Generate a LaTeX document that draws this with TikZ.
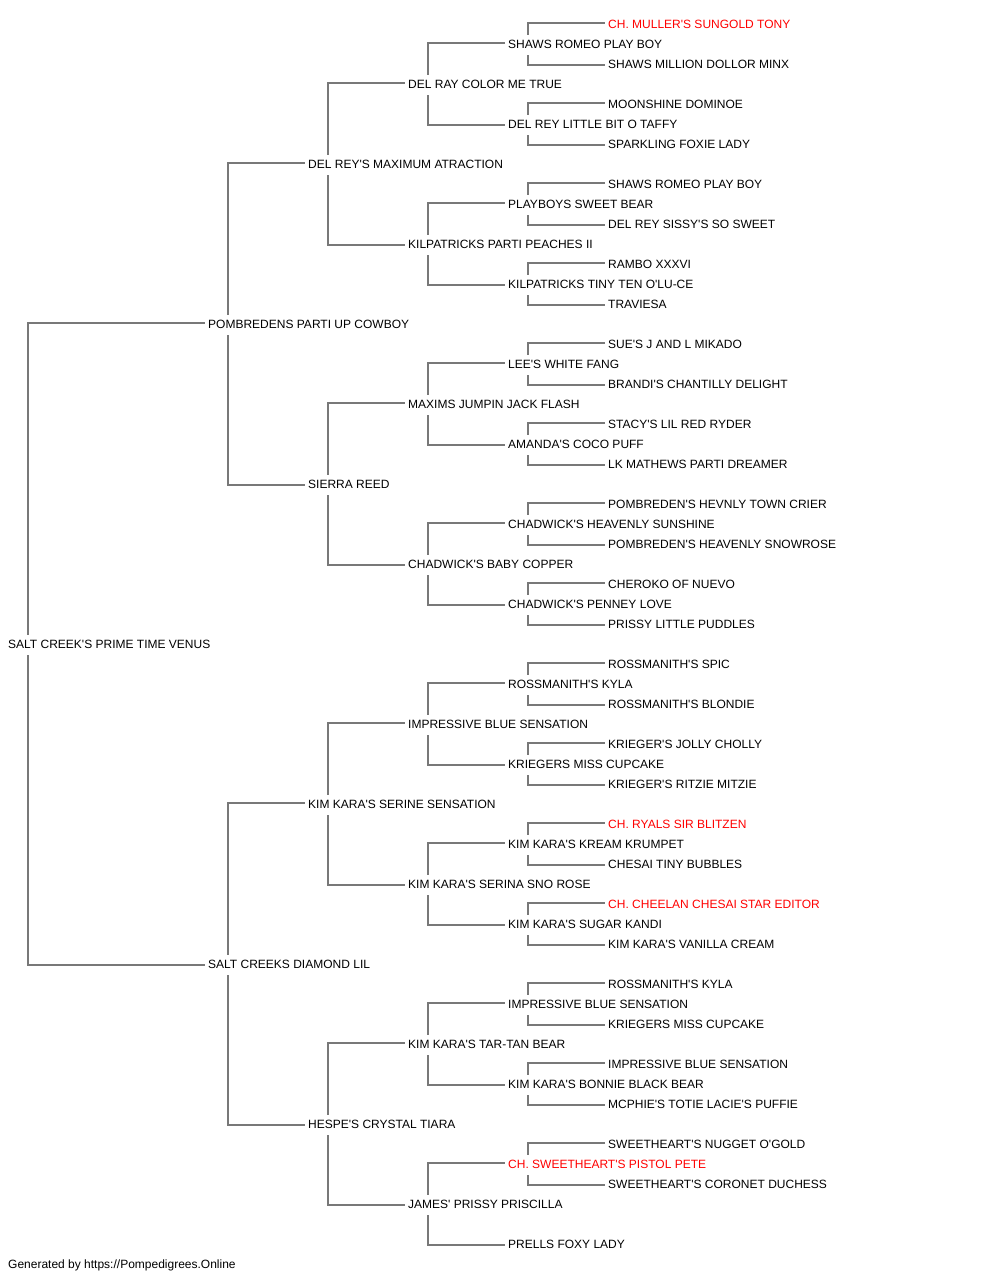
\documentclass[tikz,border=0pt]{standalone}
\usepackage{fontspec}
\setmainfont{Liberation Sans}[Ligatures=TeXOff]
\definecolor{ln}{RGB}{120,120,120}
\definecolor{rd}{RGB}{255,0,0}
\pgfdeclarelayer{bg}
\pgfsetlayers{bg,main}
\tikzset{
  pn/.style={anchor=west, inner xsep=3pt, inner ysep=4.3pt, text height=8.6pt, text depth=2pt, fill=white, font=\fontsize{12}{14}\selectfont},
  ch/.style={text=rd},
  conn/.style={draw=ln, line width=2pt}
}
\begin{document}
\begin{tikzpicture}[x=1pt,y=-1pt]
\useasboundingbox (0,0) rectangle (1000,1280);
\begin{scope}[yshift=-1pt]
% generation 0
\node[pn] (n0-0) at (5,644) {SALT CREEK'S PRIME TIME VENUS};
% generation 1
\node[pn] (n1-0) at (205,324) {POMBREDENS PARTI UP COWBOY};
\node[pn] (n1-1) at (205,964) {SALT CREEKS DIAMOND LIL};
% generation 2
\node[pn] (n2-0) at (305,164) {DEL REY'S MAXIMUM ATRACTION};
\node[pn] (n2-1) at (305,484) {SIERRA REED};
\node[pn] (n2-2) at (305,804) {KIM KARA'S SERINE SENSATION};
\node[pn] (n2-3) at (305,1124) {HESPE'S CRYSTAL TIARA};
% generation 3
\node[pn] (n3-0) at (405,84) {DEL RAY COLOR ME TRUE};
\node[pn] (n3-1) at (405,244) {KILPATRICKS PARTI PEACHES II};
\node[pn] (n3-2) at (405,404) {MAXIMS JUMPIN JACK FLASH};
\node[pn] (n3-3) at (405,564) {CHADWICK'S BABY COPPER};
\node[pn] (n3-4) at (405,724) {IMPRESSIVE BLUE SENSATION};
\node[pn] (n3-5) at (405,884) {KIM KARA'S SERINA SNO ROSE};
\node[pn] (n3-6) at (405,1044) {KIM KARA'S TAR-TAN BEAR};
\node[pn] (n3-7) at (405,1204) {JAMES' PRISSY PRISCILLA};
% generation 4
\node[pn] (n4-0) at (505,44) {SHAWS ROMEO PLAY BOY};
\node[pn] (n4-1) at (505,124) {DEL REY LITTLE BIT O TAFFY};
\node[pn] (n4-2) at (505,204) {PLAYBOYS SWEET BEAR};
\node[pn] (n4-3) at (505,284) {KILPATRICKS TINY TEN O'LU-CE};
\node[pn] (n4-4) at (505,364) {LEE'S WHITE FANG};
\node[pn] (n4-5) at (505,444) {AMANDA'S COCO PUFF};
\node[pn] (n4-6) at (505,524) {CHADWICK'S HEAVENLY SUNSHINE};
\node[pn] (n4-7) at (505,604) {CHADWICK'S PENNEY LOVE};
\node[pn] (n4-8) at (505,684) {ROSSMANITH'S KYLA};
\node[pn] (n4-9) at (505,764) {KRIEGERS MISS CUPCAKE};
\node[pn] (n4-10) at (505,844) {KIM KARA'S KREAM KRUMPET};
\node[pn] (n4-11) at (505,924) {KIM KARA'S SUGAR KANDI};
\node[pn] (n4-12) at (505,1004) {IMPRESSIVE BLUE SENSATION};
\node[pn] (n4-13) at (505,1084) {KIM KARA'S BONNIE BLACK BEAR};
\node[pn,ch] (n4-14) at (505,1164) {CH. SWEETHEART'S PISTOL PETE};
\node[pn] (n4-15) at (505,1244) {PRELLS FOXY LADY};
% generation 5
\node[pn,ch] (n5-0) at (605,24) {CH. MULLER'S SUNGOLD TONY};
\node[pn] (n5-1) at (605,64) {SHAWS MILLION DOLLOR MINX};
\node[pn] (n5-2) at (605,104) {MOONSHINE DOMINOE};
\node[pn] (n5-3) at (605,144) {SPARKLING FOXIE LADY};
\node[pn] (n5-4) at (605,184) {SHAWS ROMEO PLAY BOY};
\node[pn] (n5-5) at (605,224) {DEL REY SISSY'S SO SWEET};
\node[pn] (n5-6) at (605,264) {RAMBO XXXVI};
\node[pn] (n5-7) at (605,304) {TRAVIESA};
\node[pn] (n5-8) at (605,344) {SUE'S J AND L MIKADO};
\node[pn] (n5-9) at (605,384) {BRANDI'S CHANTILLY DELIGHT};
\node[pn] (n5-10) at (605,424) {STACY'S LIL RED RYDER};
\node[pn] (n5-11) at (605,464) {LK MATHEWS PARTI DREAMER};
\node[pn] (n5-12) at (605,504) {POMBREDEN'S HEVNLY TOWN CRIER};
\node[pn] (n5-13) at (605,544) {POMBREDEN'S HEAVENLY SNOWROSE};
\node[pn] (n5-14) at (605,584) {CHEROKO OF NUEVO};
\node[pn] (n5-15) at (605,624) {PRISSY LITTLE PUDDLES};
\node[pn] (n5-16) at (605,664) {ROSSMANITH'S SPIC};
\node[pn] (n5-17) at (605,704) {ROSSMANITH'S BLONDIE};
\node[pn] (n5-18) at (605,744) {KRIEGER'S JOLLY CHOLLY};
\node[pn] (n5-19) at (605,784) {KRIEGER'S RITZIE MITZIE};
\node[pn,ch] (n5-20) at (605,824) {CH. RYALS SIR BLITZEN};
\node[pn] (n5-21) at (605,864) {CHESAI TINY BUBBLES};
\node[pn,ch] (n5-22) at (605,904) {CH. CHEELAN CHESAI STAR EDITOR};
\node[pn] (n5-23) at (605,944) {KIM KARA'S VANILLA CREAM};
\node[pn] (n5-24) at (605,984) {ROSSMANITH'S KYLA};
\node[pn] (n5-25) at (605,1024) {KRIEGERS MISS CUPCAKE};
\node[pn] (n5-26) at (605,1064) {IMPRESSIVE BLUE SENSATION};
\node[pn] (n5-27) at (605,1104) {MCPHIE'S TOTIE LACIE'S PUFFIE};
\node[pn] (n5-28) at (605,1144) {SWEETHEART'S NUGGET O'GOLD};
\node[pn] (n5-29) at (605,1184) {SWEETHEART'S CORONET DUCHESS};
% footer
\node[pn,fill=none] (foot) at (5,1264) {Generated by https://Pompedigrees.Online};
\end{scope}
% connectors
\begin{pgfonlayer}{bg}
\foreach \g/\n in {1/2,2/4,3/8,4/16,5/30}{
  \pgfmathtruncatemacro\pg{\g-1}
  \pgfmathtruncatemacro\lastk{\n-1}
  \foreach \k in {0,...,\lastk}{
    \pgfmathtruncatemacro\pk{floor(\k/2)}
    \pgfmathtruncatemacro\tp{mod(\k+1,2)}
    \pgfmathsetmacro\ys{2*\tp}
    \draw[conn] ([yshift=\ys pt]n\g-\k.west) -| ([xshift=23pt]n\pg-\pk.west);
  }
}
\end{pgfonlayer}
\end{tikzpicture}
\end{document}
